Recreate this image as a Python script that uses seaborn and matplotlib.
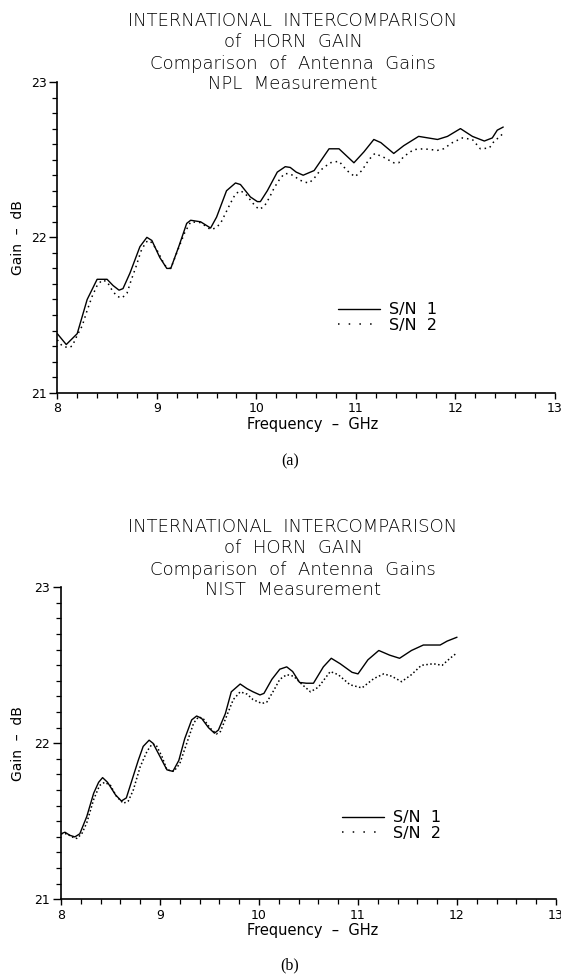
import matplotlib
matplotlib.use("Agg")
import matplotlib.pyplot as plt
from matplotlib.ticker import MultipleLocator, FixedLocator
from matplotlib.lines import Line2D
import pandas as pd
import seaborn as sns

# ---------------- data ----------------
# (a) NPL measurement
npl_freq_sn1 = [8.00, 8.09, 8.20, 8.30, 8.40, 8.50, 8.56, 8.62, 8.66, 8.73, 8.83, 8.90, 8.95,
                9.03, 9.10, 9.14, 9.22, 9.30, 9.34, 9.44, 9.54, 9.60, 9.70, 9.79, 9.84, 9.94,
                10.01, 10.04, 10.11, 10.21, 10.29, 10.34, 10.40, 10.47, 10.58, 10.73, 10.83,
                10.98, 11.08, 11.18, 11.25, 11.38, 11.48, 11.63, 11.82, 11.92, 12.05, 12.17,
                12.29, 12.37, 12.42, 12.48]
npl_gain_sn1 = [21.38, 21.31, 21.38, 21.60, 21.73, 21.73, 21.69, 21.66, 21.67, 21.77, 21.94, 22.00, 21.98,
                21.87, 21.80, 21.80, 21.94, 22.09, 22.11, 22.10, 22.06, 22.13, 22.30, 22.35, 22.34, 22.26,
                22.23, 22.23, 22.30, 22.42, 22.455, 22.45, 22.42, 22.40, 22.43, 22.57, 22.57,
                22.48, 22.55, 22.63, 22.61, 22.54, 22.59, 22.65, 22.63, 22.65, 22.70, 22.65,
                22.62, 22.64, 22.69, 22.71]
npl_freq_sn2 = [8.00, 8.05, 8.11, 8.15, 8.20, 8.25, 8.30, 8.35, 8.40, 8.45, 8.50, 8.55, 8.60,
                8.65, 8.70, 8.74, 8.79, 8.84, 8.89, 8.93, 9.00, 9.08, 9.14, 9.23, 9.28, 9.34,
                9.44, 9.54, 9.59, 9.64, 9.69, 9.74, 9.79, 9.84, 9.89, 9.94, 9.99, 10.03, 10.08,
                10.13, 10.18, 10.23, 10.28, 10.33, 10.38, 10.43, 10.49, 10.53, 10.58, 10.64,
                10.74, 10.83, 10.91, 10.99, 11.06, 11.13, 11.19, 11.28, 11.38, 11.43, 11.48,
                11.58, 11.68, 11.82, 11.88, 11.97, 12.07, 12.17, 12.25, 12.34, 12.39, 12.44, 12.48]
npl_gain_sn2 = [21.34, 21.30, 21.29, 21.30, 21.37, 21.43, 21.53, 21.62, 21.69, 21.725, 21.715, 21.66, 21.62,
                21.61, 21.64, 21.72, 21.81, 21.91, 21.97, 21.98, 21.92, 21.82, 21.80, 21.95, 22.03, 22.10,
                22.095, 22.05, 22.06, 22.09, 22.155, 22.22, 22.28, 22.30, 22.28, 22.24, 22.20, 22.18, 22.20,
                22.255, 22.32, 22.37, 22.41, 22.41, 22.395, 22.37, 22.355, 22.35, 22.38, 22.43,
                22.48, 22.49, 22.43, 22.39, 22.43, 22.50, 22.54, 22.515, 22.48, 22.48, 22.52,
                22.565, 22.57, 22.56, 22.57, 22.61, 22.64, 22.63, 22.57, 22.575, 22.62, 22.645, 22.67]

# (b) NIST measurement
nist_freq_sn1 = [8.00, 8.04, 8.09, 8.14, 8.19, 8.26, 8.33, 8.38, 8.42, 8.47, 8.55, 8.61, 8.66,
                 8.71, 8.78, 8.83, 8.89, 8.93, 9.00, 9.07, 9.13, 9.19, 9.25, 9.32, 9.37, 9.42,
                 9.49, 9.55, 9.59, 9.66, 9.72, 9.81, 9.88, 9.94, 10.01, 10.05, 10.13, 10.21,
                 10.28, 10.34, 10.41, 10.48, 10.55, 10.65, 10.73, 10.82, 10.94, 11.00, 11.10,
                 11.21, 11.32, 11.42, 11.54, 11.66, 11.83, 11.90, 12.00]
nist_gain_sn1 = [21.42, 21.43, 21.41, 21.40, 21.42, 21.53, 21.68, 21.75, 21.78, 21.75, 21.67, 21.63, 21.65,
                 21.75, 21.89, 21.98, 22.02, 22.00, 21.915, 21.83, 21.82, 21.89, 22.03, 22.15, 22.175, 22.16,
                 22.10, 22.065, 22.085, 22.19, 22.33, 22.38, 22.35, 22.33, 22.31, 22.32, 22.41, 22.475,
                 22.49, 22.46, 22.39, 22.385, 22.385, 22.49, 22.545, 22.51, 22.455, 22.445, 22.535,
                 22.595, 22.565, 22.545, 22.595, 22.63, 22.63, 22.655, 22.68]
nist_freq_sn2 = [8.00, 8.06, 8.11, 8.16, 8.21, 8.26, 8.33, 8.39, 8.44, 8.50, 8.56, 8.63, 8.68,
                 8.73, 8.80, 8.87, 8.92, 8.96, 9.02, 9.07, 9.14, 9.20, 9.27, 9.34, 9.39, 9.44,
                 9.51, 9.57, 9.61, 9.67, 9.74, 9.81, 9.88, 9.94, 10.03, 10.08, 10.15, 10.21,
                 10.28, 10.35, 10.43, 10.52, 10.60, 10.72, 10.80, 10.92, 11.04, 11.16, 11.26,
                 11.34, 11.44, 11.54, 11.64, 11.76, 11.85, 11.93, 12.00]
nist_gain_sn2 = [21.42, 21.42, 21.40, 21.39, 21.42, 21.49, 21.64, 21.73, 21.75, 21.73, 21.66, 21.615, 21.63,
                 21.70, 21.85, 21.95, 21.995, 21.99, 21.915, 21.83, 21.82, 21.87, 22.00, 22.13, 22.17, 22.155,
                 22.095, 22.06, 22.075, 22.17, 22.28, 22.33, 22.315, 22.28, 22.255, 22.265, 22.34, 22.41,
                 22.44, 22.43, 22.38, 22.33, 22.36, 22.46, 22.44, 22.375, 22.355, 22.415, 22.445,
                 22.43, 22.395, 22.44, 22.50, 22.51, 22.50, 22.545, 22.58]

series_labels = ["S/N  1", "S/N  2"]
title_lines = ["INTERNATIONAL  INTERCOMPARISON", "of  HORN  GAIN", "Comparison  of  Antenna  Gains"]
measurement_lines = ["NPL  Measurement", "NIST  Measurement"]
captions = ["(a)", "(b)"]
x_tick_values = [8, 9, 10, 11, 12, 13]
y_tick_values = [21, 22, 23]
x_label = "Frequency  \u2013  GHz"
y_label = "Gain  \u2013  dB"

for f, g in [(npl_freq_sn1, npl_gain_sn1), (npl_freq_sn2, npl_gain_sn2),
             (nist_freq_sn1, nist_gain_sn1), (nist_freq_sn2, nist_gain_sn2)]:
    assert len(f) == len(g)

# ---------------- style ----------------
sns.set_theme(style="ticks")
plt.rcParams["font.family"] = ["DejaVu Sans"]
plt.rcParams["axes.linewidth"] = 1.2
plt.rcParams["axes.edgecolor"] = "black"
plt.rcParams["axes.labelcolor"] = "black"
plt.rcParams["text.color"] = "black"
plt.rcParams["xtick.color"] = "black"
plt.rcParams["ytick.color"] = "black"
plt.rcParams["xtick.labelcolor"] = "black"
plt.rcParams["ytick.labelcolor"] = "black"

W, H = 561, 976
fig = plt.figure(figsize=(W / 100, H / 100), dpi=100)
fig.patch.set_facecolor("white")


def px_axes(left, top, right, bottom):
    return fig.add_axes([left / W, 1 - bottom / H, (right - left) / W, (bottom - top) / H])


panels = [
    dict(rect=(57.3, 82.0, 555.0, 392.7), dy=0,
         s1=(npl_freq_sn1, npl_gain_sn1), s2=(npl_freq_sn2, npl_gain_sn2),
         dots=(0, (1, 2.6)), legend_xy=(338, 317.5), caption_y=461),
    dict(rect=(61.0, 587.3, 556.0, 899.3), dy=506,
         s1=(nist_freq_sn1, nist_gain_sn1), s2=(nist_freq_sn2, nist_gain_sn2),
         dots=(0, (1, 1.6)), legend_xy=(342, 825.5), caption_y=965),
]

for i, p in enumerate(panels):
    ax = px_axes(*p["rect"])
    ax.set_facecolor("white")
    d1 = pd.DataFrame({"freq": p["s1"][0], "gain": p["s1"][1]})
    d2 = pd.DataFrame({"freq": p["s2"][0], "gain": p["s2"][1]})
    sns.lineplot(data=d1, x="freq", y="gain", ax=ax, color="black", lw=1.0,
                 estimator=None, errorbar=None, sort=False, linestyle="-")
    sns.lineplot(data=d2, x="freq", y="gain", ax=ax, color="black", lw=1.1,
                 estimator=None, errorbar=None, sort=False, linestyle=p["dots"])

    ax.set_xlim(8, 13)
    ax.set_ylim(21, 23)
    ax.xaxis.set_major_locator(FixedLocator(x_tick_values))
    ax.yaxis.set_major_locator(FixedLocator(y_tick_values))
    ax.xaxis.set_minor_locator(MultipleLocator(0.2))
    ax.yaxis.set_minor_locator(MultipleLocator(0.1))
    ax.set_xticklabels([str(v) for v in x_tick_values])
    ax.set_yticklabels([str(v) for v in y_tick_values])
    ax.tick_params(axis="x", which="major", direction="out", length=4.5, width=1.0,
                   labelsize=9, pad=2.5)
    ax.tick_params(axis="x", which="minor", direction="out", length=3.5, width=0.9)
    ax.tick_params(axis="y", which="major", direction="out", length=5.8, width=1.0,
                   labelsize=9, pad=2)
    ax.tick_params(axis="y", which="minor", direction="out", length=3.6, width=0.9)
    for s in ["top", "right"]:
        ax.spines[s].set_visible(False)

    ax_w = p["rect"][2] - p["rect"][0]
    ax_h = p["rect"][3] - p["rect"][1]
    ax.set_xlabel(x_label, fontsize=10.5)
    ax.xaxis.set_label_coords((313 - p["rect"][0]) / ax_w, -24 / ax_h)
    ax.set_ylabel(y_label, fontsize=10)
    ax.yaxis.set_label_coords((25 - p["rect"][0]) / ax_w, 0.5)

    # legend
    handles = [Line2D([], [], color="black", lw=1.0, linestyle="-"),
               Line2D([], [], color="black", lw=1.1, linestyle=(0, (1, 6)))]
    lx, ly = p["legend_xy"]
    ax.legend(handles, series_labels, loc="center left", frameon=False,
              bbox_to_anchor=(lx / W, 1 - ly / H), bbox_transform=fig.transFigure,
              fontsize=11.5, handlelength=2.6, handletextpad=0.6, labelspacing=0.05,
              borderpad=0, borderaxespad=0)

    # titles
    dy = p["dy"]
    baselines = [26, 47, 69]
    for txt, b in zip(title_lines, baselines):
        fig.text(293 / W, 1 - (b + dy) / H, txt, ha="center", va="baseline",
                 fontsize=13, fontweight="light")
    fig.text(293 / W, 1 - (89 + dy) / H, measurement_lines[i], ha="center", va="baseline",
             fontsize=13, fontweight="light")

    fig.text(290 / W, 1 - p["caption_y"] / H, captions[i], ha="center", va="center",
             fontsize=11.5, family=["Liberation Serif", "DejaVu Serif"])

fig.savefig("out.png", dpi=100, facecolor="white")
